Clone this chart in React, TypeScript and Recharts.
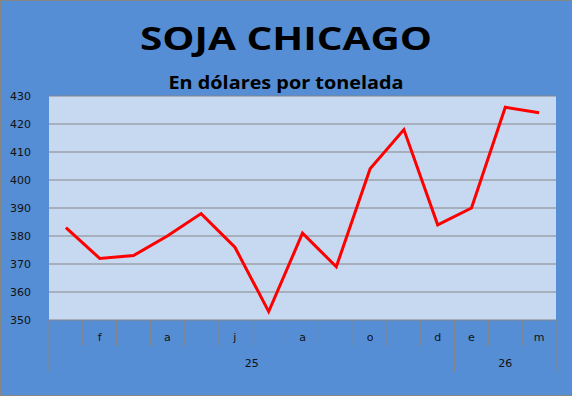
import { LineChart, Line, XAxis, YAxis, CartesianGrid } from 'recharts'

const months = ['e', 'f', 'm', 'a', 'm', 'j', 'j', 'a', 's', 'o', 'n', 'd', 'e', 'f', 'm']
// Excel only prints every other month label here
const shownMonths = ['', 'f', '', 'a', '', 'j', '', 'a', '', 'o', '', 'd', 'e', '', 'm']
const years = ['25', '25', '25', '25', '25', '25', '25', '25', '25', '25', '25', '25', '26', '26', '26']
const prices = [383, 372, 373, 380, 388, 376, 353, 381, 369, 404, 418, 384, 390, 426, 424]
const yTicks = [350, 360, 370, 380, 390, 400, 410, 420, 430]

const W = 572
const H = 396
const PLOT_LEFT = 49
const PLOT_RIGHT = 556
const PLOT_TOP = 96
const PLOT_BOTTOM = 320
const BW = (PLOT_RIGHT - PLOT_LEFT) / months.length

const GRID = '#868686'
const BLUE = '#558ED5'
const PLOT_BG = '#C6D9F1'

const data = prices.map((p, i) => ({ idx: i, month: months[i], label: shownMonths[i], year: years[i], price: p }))

function groupLength(start: number) {
  let n = 0
  while (start + n < years.length && years[start + n] === years[start]) n++
  return n
}

function MonthTick(props: any) {
  const { x, payload } = props
  const i = payload.value as number
  const left = x - BW / 2
  const groupStart = i === 0 || years[i] !== years[i - 1]
  const last = i === months.length - 1
  const parts = []
  parts.push(
    <line key="l" x1={left} x2={left} y1={PLOT_BOTTOM} y2={groupStart ? 372 : 346} stroke={GRID} strokeWidth={1} />
  )
  if (last) {
    parts.push(<line key="r" x1={left + BW} x2={left + BW} y1={PLOT_BOTTOM} y2={372} stroke={GRID} strokeWidth={1} />)
  }
  parts.push(
    <text key="m" x={x} y={341} textAnchor="middle" fontSize={11} fill="#111" fontFamily="DejaVu Sans">
      {shownMonths[i]}
    </text>
  )
  if (groupStart) {
    const len = groupLength(i)
    parts.push(
      <text key="y" x={left + (len * BW) / 2} y={367} textAnchor="middle" fontSize={11} fill="#111" fontFamily="DejaVu Sans">
        {years[i]}
      </text>
    )
  }
  return <g>{parts}</g>
}

export default function App() {
  return (
    <div style={{ position: 'relative', width: W, height: H, background: BLUE }}>
      <style>{'body{margin:0}'}</style>
      <LineChart
        width={W}
        height={H}
        data={data}
        margin={{ top: PLOT_TOP, right: W - PLOT_RIGHT, bottom: 0, left: 0 }}
      >
        <CartesianGrid fill={PLOT_BG} fillOpacity={1} stroke={GRID} vertical={false} />
        <XAxis
          dataKey="idx"
          type="category"
          scale="band"
          height={H - PLOT_BOTTOM}
          axisLine={false}
          tickLine={false}
          interval={0}
          tick={<MonthTick />}
        />
        <YAxis
          width={PLOT_LEFT}
          domain={[350, 430]}
          ticks={yTicks}
          axisLine={false}
          tickLine={false}
          tickMargin={12}
          tick={{ fontSize: 11, fill: '#111', fontFamily: 'DejaVu Sans' }}
        />
        <Line type="linear" dataKey="price" stroke="#FF0000" strokeWidth={3} dot={false} isAnimationActive={false} />
      </LineChart>
      <svg width={W} height={H} style={{ position: 'absolute', left: 0, top: 0, pointerEvents: 'none' }}>
        <text x={W / 2} y={50} textAnchor="middle" fontFamily="Open Sans" fontWeight={700} fontSize={32} fill="#000" textLength={292} lengthAdjust="spacingAndGlyphs">
          SOJA CHICAGO
        </text>
        <text x={W / 2} y={89} textAnchor="middle" fontFamily="Open Sans" fontWeight={700} fontSize={17} fill="#000" textLength={235} lengthAdjust="spacingAndGlyphs">
          En dólares por tonelada
        </text>
        <rect x={0.5} y={0.5} width={W - 1} height={H - 1} fill="none" stroke={GRID} strokeWidth={1} />
      </svg>
    </div>
  )
}
